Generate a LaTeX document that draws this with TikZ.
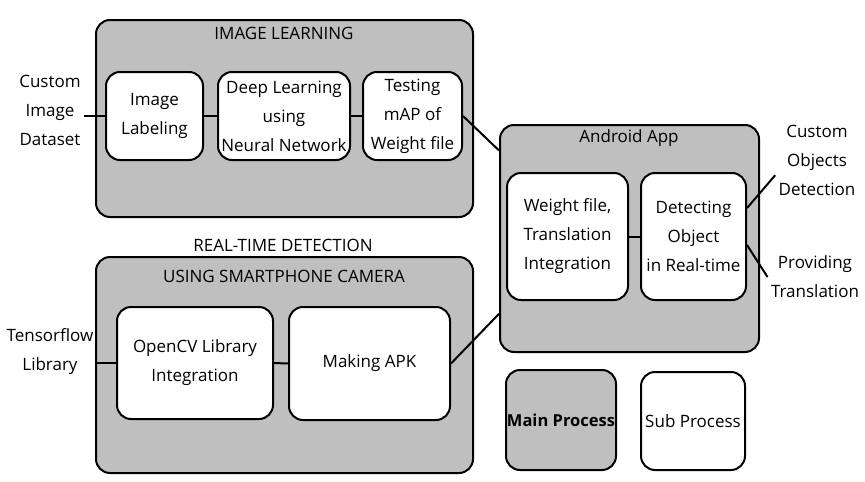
\documentclass[tikz,border=0pt]{standalone}
\usepackage{fontspec}
\setmainfont{Open Sans}

\begin{document}
\begin{tikzpicture}[x=1pt,y=-1pt,
	every node/.style={font=\fontsize{17}{29}\selectfont},
	groupbox/.style={draw,line width=2pt,fill=gray!50,rounded corners=14pt,inner sep=0pt},
	stagebox/.style={draw,line width=2pt,fill=white,rounded corners=14pt,inner sep=0pt,align=center},
	extlabel/.style={align=center},
	link/.style={line width=2pt}]
	\useasboundingbox (0,0) rectangle (865,482);
	
	% group boxes
	\node[groupbox,minimum width=377,minimum height=197] (learn) at (284.5,118.5) {};
	\node[groupbox,minimum width=377,minimum height=216] (camera) at (284.5,365) {};
	\node[groupbox,minimum width=259,minimum height=227] (android) at (629.5,238.5) {};
	
	\node (learntitle) at (284,33) {IMAGE LEARNING};
	\node (rttitle) at (283,245) {REAL-TIME DETECTION};
	\node (camtitle) at (284,276) {USING SMARTPHONE CAMERA};
	\node (apptitle) at (629,138) {Android App};
	
	% stages
	\node[stagebox,minimum width=97,minimum height=88] (labeling) at (154.5,116) {Image\\Labeling};
	\node[stagebox,minimum width=132,minimum height=88] (deep) at (284,116) {Deep Learning\\using\\Neural Network};
	\node[stagebox,minimum width=99,minimum height=88] (test) at (412.5,116) {Testing\\mAP of\\Weight file};
	
	\node[stagebox,minimum width=156,minimum height=112] (opencv) at (195,363) {OpenCV Library\\Integration};
	\node[stagebox,minimum width=161,minimum height=113] (apk) at (369.5,363.5) {Making APK};
	
	\node[stagebox,minimum width=121,minimum height=127] (weight) at (567.5,236.5) {Weight file,\\Translation\\Integration};
	\node[stagebox,minimum width=105,minimum height=127] (detect) at (693.5,236.5) {Detecting\\Object\\in Real-time};
	
	% legend
	\node[groupbox,minimum width=110,minimum height=100,font=\fontsize{16.5}{29}\selectfont\bfseries] (mainproc) at (561,420) {Main Process};
	\node[stagebox,minimum width=104,minimum height=98] (subproc) at (693,421) {Sub Process};
	
	% outside inputs and outputs
	\node[extlabel] (dataset) at (50,110) {Custom\\Image\\Dataset};
	\node[extlabel] (tensor) at (50,352) {Tensorflow\\Library};
	\node[extlabel] (objects) at (817,160) {Custom\\Objects\\Detection};
	\node[extlabel] (provide) at (815,277) {Providing\\Translation};
	
	\foreach \a/\b in {labeling/deep,deep/test,opencv/apk,weight/detect}
		\draw[link] (\a) -- (\b);
	
	\draw[link] (labeling.west -| dataset.east) -- (labeling.west);
	\draw[link] (opencv.west -| tensor.east) -- (opencv.west);
	\draw[link] (test.east) -- (android.146);
	\draw[link] (apk.east) -- (android.210);
	\draw[link] (detect.28) -- (objects.200);
	\draw[link] (detect.-9) -- (provide.west);
\end{tikzpicture}
\end{document}
